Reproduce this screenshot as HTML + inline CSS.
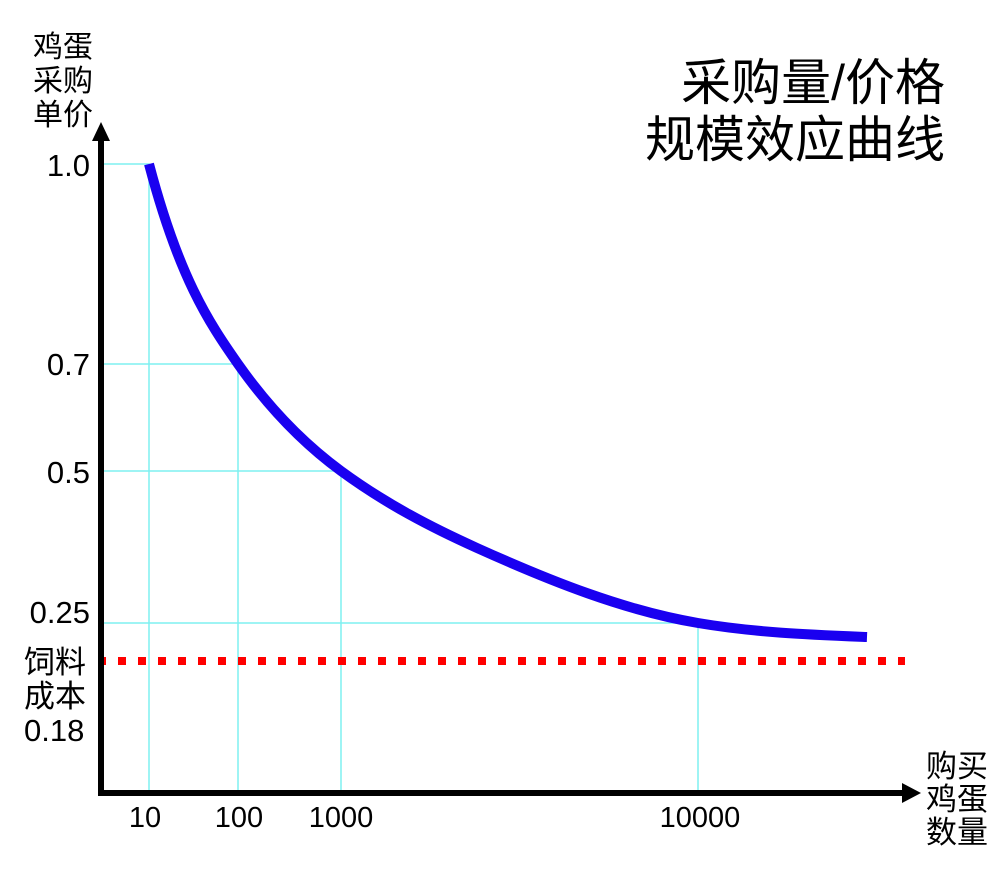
<!DOCTYPE html>
<html><head><meta charset="utf-8"><style>
body{margin:0;background:#fff;}
svg text{font-family:"Liberation Sans","Noto Sans CJK SC",sans-serif;fill:#000;}
</style></head><body>
<svg width="1000" height="876" viewBox="0 0 1000 876" xmlns="http://www.w3.org/2000/svg">
<g stroke="#7ff0f0" stroke-width="1.5" fill="none">
<path d="M101 164H149V793"/>
<path d="M101 364H238V793"/>
<path d="M101 471H341V793"/>
<path d="M101 623H698V793"/>
</g>
<line x1="98" y1="661" x2="905" y2="661" stroke="#ff0000" stroke-width="8" stroke-dasharray="8 12"/>
<path d="M149 164 C178.67 276.7 208.33 321.8 238 364 C272.33 412.8 306.67 445.8 341 471 C386.33 504.2 431.67 527.6 477 548 C550.67 581.2 624.33 610.5 698 623 C754.33 632.6 810.67 634.7 867 637" fill="none" stroke="#1a00f0" stroke-width="10"/>
<line x1="101" y1="138" x2="101" y2="795" stroke="#000" stroke-width="6"/>
<polygon points="101,122 92,141 110,141" fill="#000"/>
<line x1="98" y1="793" x2="904" y2="793" stroke="#000" stroke-width="6"/>
<polygon points="921,793 902,783 902,803" fill="#000"/>
<g font-size="30">
<text x="33" y="57">鸡蛋</text>
<text x="33" y="91">采购</text>
<text x="33" y="125">单价</text>
</g>
<g font-size="31">
<text x="90" y="176" text-anchor="end">1.0</text>
<text x="90" y="375" text-anchor="end">0.7</text>
<text x="90" y="483" text-anchor="end">0.5</text>
<text x="90" y="623" text-anchor="end">0.25</text>
<text x="24" y="673">饲料</text>
<text x="24" y="707">成本</text>
<text x="24" y="741">0.18</text>
<text x="926" y="777">购买</text>
<text x="926" y="810">鸡蛋</text>
<text x="926" y="843">数量</text>
</g>
<g font-size="29">
<text x="145" y="827" text-anchor="middle">10</text>
<text x="239" y="827" text-anchor="middle">100</text>
<text x="341" y="827" text-anchor="middle">1000</text>
<text x="700" y="827" text-anchor="middle">10000</text>
</g>
<g font-size="50" text-anchor="end">
<text x="945" y="100">采购量/价格</text>
<text x="945" y="157">规模效应曲线</text>
</g>
</svg>
</body></html>
